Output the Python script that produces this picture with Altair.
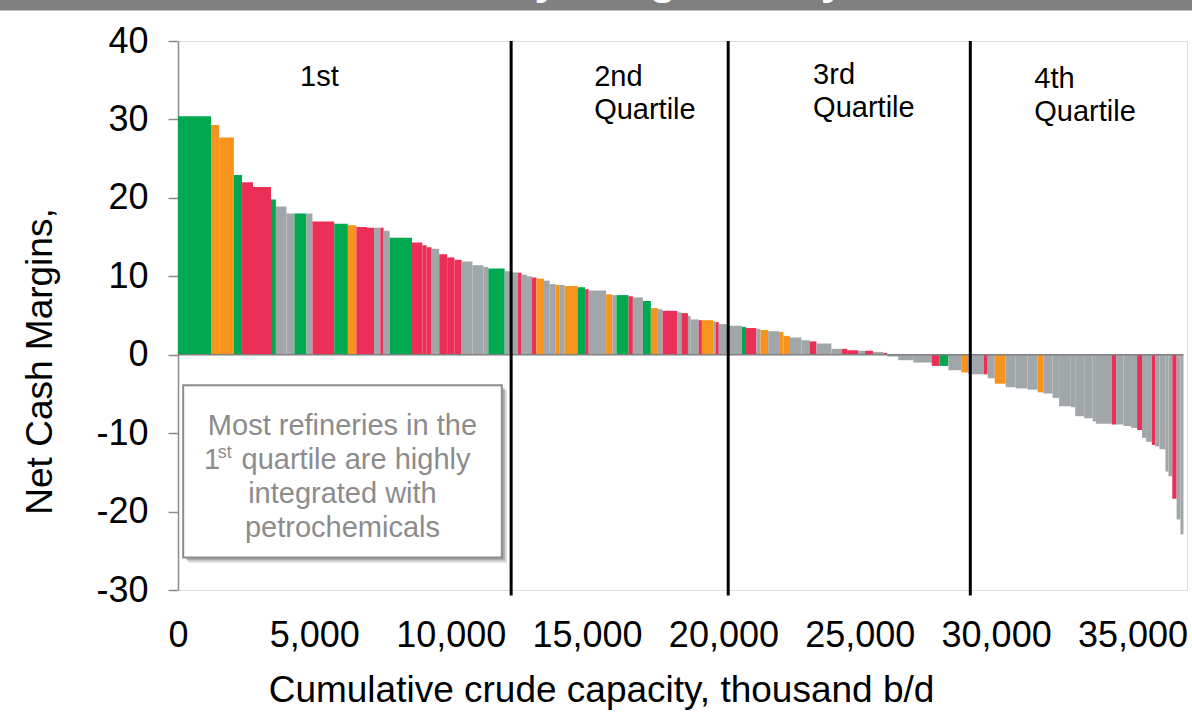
import altair as alt
import numpy as np
import pandas as pd

# Refinery capacity (thousand b/d), ranked from highest to lowest net cash margin
capacity_kbd = [
    1210, 300, 540, 300, 400, 660, 180, 390, 290, 440,
    220, 800, 500, 310, 390, 260, 230, 120, 220, 820,
    380, 160, 180, 280, 290, 270, 260, 400, 400, 180,
    600, 200, 290, 130, 200, 180, 160, 280, 210, 220,
    150, 180, 470, 280, 130, 640, 230, 150, 440, 160,
    370, 290, 260, 170, 540, 150, 240, 100, 290, 120,
    420, 90, 110, 340, 510, 150, 380, 150, 280, 400,
    160, 240, 420, 300, 250, 550, 370, 210, 400, 250,
    300, 380, 140, 400, 550, 680, 280, 330, 470, 250,
    150, 430, 140, 260, 400, 370, 430, 370, 210, 340,
    240, 430, 160, 330, 310, 120, 590, 150, 270, 280,
    220, 180, 150, 210, 120, 160, 220, 110, 140, 160,
    140, 110,
]

# Net cash margin of each refinery
net_margin = [
    30.4, 29.3, 27.7, 22.9, 22.0, 21.4, 19.8, 18.9, 18.0, 18.0,
    18.0, 17.0, 16.7, 16.5, 16.3, 16.2, 16.2, 16.2, 15.8, 14.9,
    14.3, 13.95, 13.7, 13.5, 12.8, 12.4, 12.1, 11.9, 11.4, 11.2,
    11.0, 10.65, 10.5, 10.45, 10.2, 10.0, 9.85, 9.7, 9.45, 9.0,
    8.9, 8.9, 8.75, 8.6, 8.35, 8.2, 7.7, 7.6, 7.6, 7.45,
    7.3, 6.85, 5.95, 5.8, 5.6, 5.4, 5.3, 4.95, 4.5, 4.4,
    4.4, 4.25, 4.15, 3.9, 3.7, 3.55, 3.4, 3.3, 3.15, 3.0,
    2.9, 2.4, 2.2, 1.85, 1.7, 1.43, 0.75, 0.75, 0.57, 0.5,
    0.5, 0.36, 0.23, -0.23, -0.7, -1.0, -1.43, -1.43, -1.98, -2.27,
    -2.4, -2.5, -2.5, -3.0, -3.7, -4.15, -4.3, -4.45, -4.8, -4.95,
    -5.5, -6.57, -6.7, -7.84, -8.1, -8.5, -8.8, -8.9, -8.9, -9.1,
    -9.33, -9.6, -10.6, -11.1, -11.5, -11.7, -12.05, -14.9, -15.5, -18.35,
    -21.0, -22.9,
]

# Refinery group code: G green, O orange, R red, Y grey
group_code = list(
    "GOOGRRGYYG"
    "YRGORRYRYG"
    "RRRYRRRYYY"
    "GYYRYYROYY"
    "OYOGRYOYGR"
    "YGOYRYRYYR"
    "OYRYYGRYOY"
    "OOYYRYYRRY"
    "RYRYYYRGYO"
    "YYRYOYYYOY"
    "YYYYYYYRYY"
    "YRYYRYYYYR"
    "YY"
)

group_names = {"G": "green", "O": "orange", "R": "red", "Y": "grey"}
palette_domain = ["green", "orange", "red", "grey"]
palette_range = ["#00A84F", "#F7941D", "#EC2F56", "#A1A7A8"]

# Quartile boundaries on the cumulative capacity axis
quartile_bounds = [12216, 20176, 29054]

x_ticks = [0, 5000, 10000, 15000, 20000, 25000, 30000, 35000]
y_ticks = [-30, -20, -10, 0, 10, 20, 30, 40]

FONT = "Liberation Sans"

cap = np.array(capacity_kbd, dtype=float)
cum_end = np.cumsum(cap)
bars = pd.DataFrame({
    "start": cum_end - cap,
    "end": cum_end,
    "margin": net_margin,
    "base": 0.0,
    "group": [group_names[c] for c in group_code],
})

x_scale = alt.Scale(domain=[0, 37000], nice=False, zero=False)
y_scale = alt.Scale(domain=[-30, 40], nice=False, zero=False)

x_axis = alt.Axis(
    values=x_ticks, format=",d", grid=False, domain=False, ticks=False, tickSize=0,
    labelFont=FONT, labelFontSize=36, labelColor="#000000", labelPadding=28,
    labelFlush=False, labelOverlap=False,
    title="Cumulative crude capacity, thousand b/d",
    titleFont=FONT, titleFontSize=37, titleFontWeight="normal", titleColor="#000000",
    titleX=423, titleY=100, titleAlign="center", titleBaseline="middle",
)
y_axis = alt.Axis(
    values=y_ticks, grid=False, domainColor="#8C8C8C", domainWidth=1.5,
    tickColor="#8C8C8C", tickWidth=1.5, tickSize=10,
    labelFont=FONT, labelFontSize=36, labelColor="#000000", labelPadding=20,
    labelExpr="'' + datum.value",
    title="Net Cash Margins,",
    titleFont=FONT, titleFontSize=37, titleFontWeight="normal", titleColor="#000000",
    titleAngle=-90, titleX=-138, titleY=320, titleAlign="center", titleBaseline="middle",
)

bar_layer = alt.Chart(bars).mark_rect().encode(
    x=alt.X("start:Q", scale=x_scale, axis=x_axis),
    x2="end:Q",
    y=alt.Y("base:Q", scale=y_scale, axis=y_axis),
    y2="margin:Q",
    color=alt.Color("group:N", scale=alt.Scale(domain=palette_domain, range=palette_range), legend=None),
)

zero_line = alt.Chart(pd.DataFrame({"x0": [0.0], "x1": [float(cum_end[-1])], "y": [0.0]})).mark_rule(
    color="#808080", strokeWidth=1.4
).encode(x="x0:Q", x2="x1:Q", y="y:Q")

quartile_lines = alt.Chart(pd.DataFrame({
    "x": quartile_bounds, "top": [40.0] * 3, "bottom": [-30.7] * 3,
})).mark_rule(color="#000000", strokeWidth=3).encode(x="x:Q", y="top:Q", y2="bottom:Q")

quartile_labels = alt.Chart(pd.DataFrame({
    "x": [4475, 15260, 15260, 23290, 23290, 31400, 31400],
    "y": [34.25, 34.25, 30.04, 34.5, 30.29, 33.99, 29.78],
    "label": ["1st", "2nd", "Quartile", "3rd", "Quartile", "4th", "Quartile"],
})).mark_text(
    align="left", baseline="alphabetic", font=FONT, fontSize=29, color="#000000"
).encode(x="x:Q", y="y:Q", text="label:N")

# Note box with a soft drop shadow
box = {"x0": 190.0, "x1": 11875.0, "y0": -3.89, "y1": -25.87}
shadow_far = alt.Chart(pd.DataFrame({
    "x0": [box["x0"] + 190], "x1": [box["x1"] + 190], "y0": [box["y0"] - 0.65], "y1": [box["y1"] - 0.65],
})).mark_rect(color="#6E6E6E", opacity=0.25).encode(x="x0:Q", x2="x1:Q", y="y0:Q", y2="y1:Q")
shadow_near = alt.Chart(pd.DataFrame({
    "x0": [box["x0"] + 110], "x1": [box["x1"] + 110], "y0": [box["y0"] - 0.38], "y1": [box["y1"] - 0.38],
})).mark_rect(color="#6E6E6E", opacity=0.45).encode(x="x0:Q", x2="x1:Q", y="y0:Q", y2="y1:Q")
box_rect = alt.Chart(pd.DataFrame({
    "x0": [box["x0"]], "x1": [box["x1"]], "y0": [box["y0"]], "y1": [box["y1"]],
})).mark_rect(fill="#FFFFFF", stroke="#8C8C8C", strokeWidth=2).encode(
    x="x0:Q", x2="x1:Q", y="y0:Q", y2="y1:Q"
)

note_color = "#8C8C8C"
note_lines = alt.Chart(pd.DataFrame({
    "x": [6030, 6030, 6030],
    "y": [-10.27, -18.94, -23.28],
    "line": ["Most refineries in the", "integrated with", "petrochemicals"],
})).mark_text(
    align="center", baseline="alphabetic", font=FONT, fontSize=29, color=note_color
).encode(x="x:Q", y="y:Q", text="line:N")

note_second = alt.Chart(pd.DataFrame({
    "x": [955, 2330], "y": [-14.6, -14.6], "part": ["1", "quartile are highly"],
})).mark_text(
    align="left", baseline="alphabetic", font=FONT, fontSize=29, color=note_color
).encode(x="x:Q", y="y:Q", text="part:N")

note_sup = alt.Chart(pd.DataFrame({"x": [1460], "y": [-13.2], "part": ["st"]})).mark_text(
    align="left", baseline="alphabetic", font=FONT, fontSize=18, color=note_color
).encode(x="x:Q", y="y:Q", text="part:N")

# Slide header band across the top edge
one = pd.DataFrame({"k": [0]})
header_band = alt.Chart(one).mark_rect(color="#7F807F").encode(
    x=alt.value(-178), x2=alt.value(1014), y=alt.value(-41), y2=alt.value(-30.5)
)
header_text = alt.Chart(one).mark_text(
    align="center", baseline="alphabetic", font=FONT, fontSize=44, fontWeight="bold", color="#FFFFFF"
).encode(x=alt.value(436), y=alt.value(-47.5), text=alt.value("Refinery Margins Vary"))

chart = alt.layer(
    bar_layer, zero_line, quartile_lines, quartile_labels,
    shadow_far, shadow_near, box_rect, note_lines, note_second, note_sup,
    header_band, header_text,
).properties(
    width=1009, height=549,
    autosize="none",
    padding={"left": 178, "top": 41, "right": 5, "bottom": 124},
).configure_view(stroke=None).configure(font=FONT)

chart.save("out.html", embed_options={"renderer": "svg", "actions": False})
